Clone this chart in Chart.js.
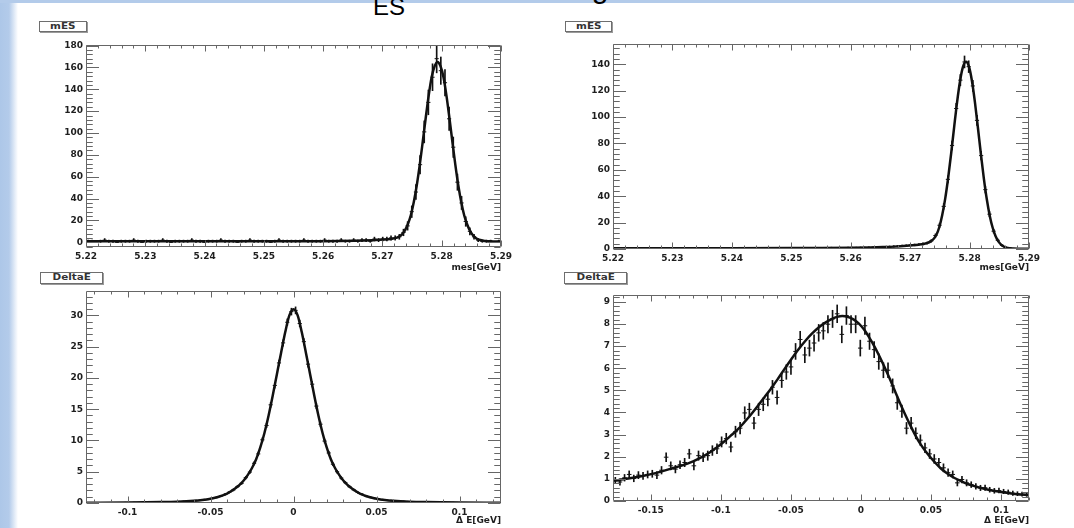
<!DOCTYPE html>
<html>
<head>
<meta charset="utf-8">
<script src="https://cdn.jsdelivr.net/npm/chart.js@4.4.1/dist/chart.umd.min.js"></script>
<style>
  html, body { margin: 0; padding: 0; }
  body { width: 1074px; height: 528px; overflow: hidden; position: relative; background: #fff;
         font-family: "Liberation Sans", Arial, sans-serif; }
  .bgleft { position: absolute; left: 0; top: 0; width: 20px; height: 528px;
            background: linear-gradient(to right, #adc7e8 0px, #b3cbea 9px, #ffffff 18px); }
  .bgtop { position: absolute; left: 0; top: 0; width: 1074px; height: 3px; background: #b3cbea; }
  canvas { position: absolute; }
  .lbl { position: absolute; box-sizing: border-box; border: 1px solid #6e6e6e; background: #fff;
         box-shadow: 1px 1px 0 #9a9a9a; text-align: center; font-family: "DejaVu Sans", sans-serif;
         font-weight: bold; font-size: 8px; color: #333; overflow: hidden; }
  .lbl span { display: inline-block; transform: scaleX(1.3); transform-origin: center; }
  .tt { position: absolute; white-space: nowrap; color: #000; font-family: "Liberation Sans", Arial, sans-serif; line-height: 1; }
</style>
</head>
<body>
<div class="bgleft"></div>
<div class="bgtop"></div>
<div class="tt" style="left:347px; top:-27px; font-size:30px;">m</div>
<div class="tt" style="left:373px; top:-5px; font-size:24px;">ES</div>
<div class="tt" style="left:420px; top:-27px; font-size:30px;">and ΔE for signal</div>

<div class="lbl" style="left:39px; top:21px; width:48px; height:11px; line-height:9px;"><span>mES</span></div>
<div class="lbl" style="left:565px; top:21px; width:47px; height:11px; line-height:9px;"><span>mES</span></div>
<div class="lbl" style="left:40px; top:272px; width:63px; height:12px; line-height:10px;"><span>DeltaE</span></div>
<div class="lbl" style="left:564px; top:272px; width:63px; height:12px; line-height:10px;"><span>DeltaE</span></div>

<canvas id="cTL" width="530" height="246" style="left:0px; top:30px;"></canvas>
<canvas id="cTR" width="530" height="246" style="left:527px; top:30px;"></canvas>
<canvas id="cBL" width="530" height="248" style="left:0px; top:280px;"></canvas>
<canvas id="cBR" width="530" height="248" style="left:527px; top:280px;"></canvas>

<script>
// ---------------- DATA ----------------
// mES histograms: 100 bins from 5.22 to 5.29
const mesBinLow = 5.22;
const mesBinWidth = 0.0007;
const mesTicks = [5.22, 5.23, 5.24, 5.25, 5.26, 5.27, 5.28, 5.29];
const mesTickLabels = ['5.22', '5.23', '5.24', '5.25', '5.26', '5.27', '5.28', '5.29'];

// top-left mES
const mesLeftCounts = [
  1,1,0,1,2,1,1,0,1,1, 1,2,1,0,1,1,1,1,2,1, 0,1,1,1,1,2,1,1,0,1, 1,1,2,1,1,1,0,1,1,2,
  1,1,1,1,0,1,2,1,1,1, 1,1,2,1,1,1,1,2,1,1, 1,2,1,1,2,1,2,2,1,3, 2,3,3,4,4,5,9,15,28,46,
  71,101,128,151,168,157,146,113,87,55, 36,19,10,5,2,1,1,1,0,1];
const mesLeftErrors = [
  1,1,0,1,1.41,1,1,0,1,1, 1,1.41,1,0,1,1,1,1,1.41,1, 0,1,1,1,1,1.41,1,1,0,1, 1,1,1.41,1,1,1,0,1,1,1.41,
  1,1,1,1,0,1,1.41,1,1,1, 1,1,1.41,1,1,1,1,1.41,1,1, 1,1.41,1,1,1.41,1,1.41,1.41,1,1.73,
  1.41,1.73,1.73,2,2,2.24,3,3.87,5.29,6.78, 8.43,10.05,11.31,12.29,12.96,12.53,12.08,10.63,9.33,7.42,
  6,4.36,3.16,2.24,1.41,1,1,1,0,1];
const mesLeftFitX = [5.22,5.23,5.24,5.25,5.26,5.2653,5.2683,5.2703,5.2713,5.2723,5.2728,5.2733,5.2738,5.2743,5.2748,
  5.2753,5.2758,5.2763,5.2768,5.2773,5.2778,5.2783,5.2788,5.2793,5.2798,5.2803,5.2808,5.2813,5.2818,5.2823,5.2828,
  5.2833,5.2838,5.2843,5.2848,5.2853,5.2858,5.2863,5.2873,5.2886,5.29];
const mesLeftFitY = [1.0,1.0,1.0,1.0,1.05,1.4,1.9,2.5,3.0,4.0,5.2,7.3,11,16.8,25,37,52.4,71,92,113.7,134.2,151,161,165,
  161,151,134.2,113.7,92,70.9,52.1,36.6,24.5,16.3,10.2,6.2,3.7,2.3,1.2,0.8,0.6];
const mesLeftYTicks = [0, 20, 40, 60, 80, 100, 120, 140, 160, 180];

// top-right mES
const mesRightCounts = [
  0.5,0.6,0.5,0.5,0.6,0.5,0.6,0.6,0.5,0.6, 0.6,0.5,0.6,0.6,0.6,0.7,0.6,0.6,0.6,0.7,
  0.6,0.7,0.7,0.6,0.7,0.7,0.7,0.7,0.7,0.8, 0.7,0.7,0.8,0.7,0.8,0.8,0.8,0.8,0.8,0.8,
  0.8,0.8,0.9,0.8,0.8,0.9,0.9,0.8,0.9,0.9, 0.9,0.9,1.0,0.9,1.0,0.9,1.0,1.0,1.0,1.1,
  1.1,1.2,1.3,1.4,1.5,1.6,1.8,2.0,2.2,2.4, 2.6,2.9,3.1,3.4,3.9,4.5,6.1,10.2,18.0,32.3,
  52.8,78.5,106.5,128.0,141.8,138.2,123.6,97.5,70.8,45.0, 26.4,13.5,6.6,2.8,1.2,0.6,0.3,0.2,0.2,0.1];
const mesRightErrors = [
  0.27,0.29,0.27,0.27,0.29,0.27,0.29,0.29,0.27,0.29, 0.29,0.27,0.29,0.29,0.29,0.32,0.29,0.29,0.29,0.32,
  0.29,0.32,0.32,0.29,0.32,0.32,0.32,0.32,0.32,0.34, 0.32,0.32,0.34,0.32,0.34,0.34,0.34,0.34,0.34,0.34,
  0.34,0.34,0.36,0.34,0.34,0.36,0.36,0.34,0.36,0.36, 0.36,0.36,0.38,0.36,0.38,0.36,0.38,0.38,0.38,0.4,
  0.4,0.42,0.43,0.45,0.47,0.48,0.51,0.54,0.56,0.59, 0.61,0.65,0.67,0.7,0.75,0.81,0.94,1.21,1.61,2.16,
  2.76,3.37,3.92,4.3,4.52,4.47,4.22,3.75,3.2,2.55, 1.95,1.4,0.98,0.64,0.42,0.29,0.21,0.17,0.17,0.12];
const mesRightFitX = [5.22,5.23,5.24,5.25,5.255,5.26,5.2634,5.2654,5.2674,5.2694,5.2704,5.2714,5.2724,5.2729,5.2734,
  5.2739,5.2744,5.2749,5.2754,5.2759,5.2764,5.2769,5.2774,5.2779,5.2784,5.2789,5.2794,5.2799,5.2804,5.2809,5.2814,
  5.2819,5.2824,5.2829,5.2834,5.2839,5.2844,5.2849,5.2854,5.2859,5.2864,5.2874,5.29];
const mesRightFitY = [0.5,0.55,0.65,0.75,0.8,0.95,1.2,1.45,1.8,2.4,2.8,3.3,4.0,4.6,5.6,7.4,10.6,16.5,25.8,38.2,54.0,
  72.4,92.2,111.4,127.4,138.2,142,138.2,127.4,111.3,92.1,72.2,53.6,37.7,25.1,15.9,9.5,5.4,2.9,1.5,0.8,0.4,0.2];
const mesRightYTicks = [0, 20, 40, 60, 80, 100, 120, 140];

// bottom-left DeltaE: 100 bins from -0.125 to 0.125
const deLeftBinLow = -0.125;
const deLeftBinWidth = 0.0025;
const deLeftCounts = [
  0.05,0.05,0.06,0.05,0.06,0.06,0.07,0.06,0.07,0.08, 0.08,0.09,0.08,0.1,0.11,0.12,0.12,0.14,0.15,0.16,
  0.18,0.2,0.23,0.26,0.3,0.35,0.39,0.44,0.53,0.6, 0.76,0.9,1.12,1.38,1.72,2.08,2.62,3.15,4.05,4.95,
  6.35,7.85,10.1,12.4,15.7,18.8,22.4,25.6,28.9,30.6, 30.8,28.7,25.8,22.2,19.0,15.5,12.6,9.9,8.0,6.2,
  5.0,4.0,3.25,2.6,2.1,1.68,1.4,1.1,0.92,0.74, 0.62,0.53,0.44,0.39,0.34,0.3,0.27,0.23,0.2,0.18,
  0.16,0.15,0.14,0.12,0.11,0.1,0.1,0.09,0.09,0.08, 0.08,0.07,0.07,0.06,0.06,0.06,0.05,0.05,0.05,0.05];
const deLeftErrors = [
  0.04,0.04,0.04,0.04,0.04,0.04,0.04,0.04,0.04,0.04, 0.04,0.04,0.04,0.04,0.05,0.05,0.05,0.05,0.05,0.05,
  0.05,0.05,0.06,0.06,0.06,0.07,0.07,0.07,0.08,0.08, 0.09,0.1,0.11,0.12,0.14,0.15,0.17,0.18,0.2,0.22,
  0.25,0.28,0.32,0.35,0.4,0.43,0.47,0.51,0.54,0.55, 0.56,0.54,0.51,0.47,0.44,0.39,0.36,0.31,0.28,0.25,
  0.22,0.2,0.18,0.16,0.15,0.13,0.12,0.11,0.1,0.09, 0.08,0.08,0.07,0.07,0.06,0.06,0.06,0.05,0.05,0.05,
  0.05,0.05,0.05,0.05,0.05,0.05,0.04,0.04,0.04,0.04, 0.04,0.04,0.04,0.04,0.04,0.04,0.04,0.04,0.04,0.04];
const deLeftFitX = [-0.125,-0.1,-0.09,-0.08,-0.07,-0.06,-0.055,-0.05,-0.045,-0.04,-0.0375,-0.035,-0.0325,-0.03,-0.0275,
  -0.025,-0.0225,-0.02,-0.0175,-0.015,-0.0125,-0.01,-0.0075,-0.005,-0.0025,0,0.0025,0.005,0.0075,0.01,0.0125,0.015,
  0.0175,0.02,0.0225,0.025,0.0275,0.03,0.0325,0.035,0.0375,0.04,0.045,0.05,0.055,0.06,0.07,0.08,0.09,0.1,0.125];
const deLeftFitY = [0.05,0.08,0.11,0.15,0.22,0.36,0.48,0.68,1.0,1.5,1.9,2.35,2.9,3.6,4.5,5.6,7.0,8.9,11.2,14.0,17.2,
  20.6,24.0,27.3,30.0,31.0,30.0,27.3,24.0,20.6,17.2,14.0,11.2,8.9,7.0,5.6,4.5,3.6,2.9,2.35,1.9,1.5,1.0,0.68,0.48,
  0.36,0.22,0.15,0.11,0.08,0.05];
const deLeftXTicks = [-0.1, -0.05, 0, 0.05, 0.1];
const deLeftXTickLabels = ['-0.1', '-0.05', '0', '0.05', '0.1'];
const deLeftYTicks = [0, 5, 10, 15, 20, 25, 30];

// bottom-right DeltaE: 90 bins from -0.177 to 0.12
const deRightBinLow = -0.177;
const deRightBinWidth = 0.0033;
const deRightCounts = [
  0.93,0.86,1.05,1.2,1.02,1.17,1.14,1.2,1.23,1.17, 1.39,1.98,1.59,1.44,1.64,1.74,2.13,1.59,2.05,1.98,
  2.05,2.28,2.36,2.67,2.82,2.44,3.13,3.29,3.98,4.14, 3.52,4.14,4.37,4.6,5.14,4.68,5.45,5.83,6.06,6.76,
  7.3,6.6,6.91,7.14,7.6,7.69,7.99,8.23,8.46,7.53, 8.38,7.99,7.99,6.91,7.92,7.22,6.84,6.3,5.91,5.91,
  5.2,4.44,4.06,3.29,3.52,3.06,2.75,2.4,2.13,1.9, 1.74,1.5,1.28,1.2,0.82,0.97,0.82,0.74,0.66,0.59,
  0.6,0.51,0.46,0.47,0.43,0.4,0.35,0.33,0.31,0.3];
const deRightErrors = [
  0.14,0.14,0.15,0.16,0.15,0.16,0.16,0.16,0.16,0.16, 0.17,0.2,0.18,0.17,0.18,0.19,0.21,0.18,0.21,0.2,
  0.21,0.22,0.22,0.23,0.24,0.22,0.25,0.26,0.28,0.28, 0.26,0.28,0.29,0.3,0.31,0.3,0.32,0.33,0.34,0.36,
  0.37,0.35,0.36,0.37,0.38,0.38,0.39,0.39,0.4,0.38, 0.4,0.39,0.39,0.36,0.39,0.37,0.36,0.35,0.34,0.34,
  0.32,0.3,0.28,0.26,0.26,0.25,0.24,0.22,0.21,0.2, 0.19,0.18,0.17,0.16,0.14,0.15,0.14,0.13,0.13,0.12,
  0.12,0.11,0.11,0.11,0.1,0.1,0.1,0.09,0.09,0.09];
const deRightFitX = [-0.177,-0.1735,-0.165,-0.156,-0.146,-0.1367,-0.128,-0.1198,-0.1137,-0.1077,-0.103,-0.098,-0.0933,
  -0.0883,-0.0835,-0.0786,-0.0738,-0.069,-0.064,-0.0593,-0.0545,-0.0496,-0.0448,-0.0399,-0.035,-0.0302,-0.0254,-0.0206,
  -0.017,-0.0133,-0.0097,-0.006,-0.003,0,0.003,0.006,0.0097,0.0133,0.017,0.0206,0.0242,0.0278,0.0315,0.0351,0.0387,
  0.0423,0.046,0.0496,0.0532,0.0569,0.0617,0.0665,0.0714,0.0762,0.081,0.0859,0.092,0.098,0.104,0.1101,0.1173,0.12];
const deRightFitY = [0.92,0.94,1.03,1.13,1.27,1.44,1.6,1.79,1.98,2.2,2.42,2.67,2.93,3.21,3.54,3.9,4.28,4.68,5.1,5.52,
  5.97,6.42,6.84,7.22,7.56,7.84,8.06,8.23,8.32,8.36,8.33,8.23,8.1,7.92,7.68,7.38,6.98,6.53,6.03,5.52,4.98,4.44,3.92,
  3.44,2.99,2.59,2.26,1.98,1.72,1.48,1.24,1.05,0.9,0.77,0.67,0.59,0.5,0.43,0.37,0.32,0.28,0.27];
const deRightXTicks = [-0.15, -0.1, -0.05, 0, 0.05, 0.1];
const deRightXTickLabels = ['-0.15', '-0.1', '-0.05', '0', '0.05', '0.1'];
const deRightYTicks = [0, 1, 2, 3, 4, 5, 6, 7, 8, 9];

// ---------------- RENDERING ----------------
const LABEL_FONT = { family: 'DejaVu Sans', weight: 'bold', size: 9 };
const TEXT_COLOR = '#1e1e1e';
const FRAME_COLOR = '#666666';

const rootFrame = {
  id: 'rootFrame',
  afterDatasetsDraw(chart, args, o) {
    const { ctx, chartArea: a, scales: { x, y } } = chart;
    const L = Math.round(a.left) + 0.5, R = Math.round(a.right) - 0.5;
    const T = Math.round(a.top) + 0.5, B = Math.round(a.bottom) - 0.5;
    ctx.save();
    ctx.strokeStyle = FRAME_COLOR;
    ctx.lineWidth = 1;
    ctx.beginPath();
    const seg = (x1, y1, x2, y2) => { ctx.moveTo(x1, y1); ctx.lineTo(x2, y2); };
    seg(L, T, R, T); seg(R, T, R, B); seg(R, B, L, B); seg(L, B, L, T);
    const tickVals = (min, max, step) => {
      const out = [];
      for (let k = Math.ceil(min / step - 1e-6); k * step <= max + 1e-9; k++) out.push(k * step);
      return out;
    };
    const isMajor = (v, step) => Math.abs(v / step - Math.round(v / step)) < 1e-6;
    for (const v of tickVals(x.min, x.max, o.xMinor)) {
      const len = isMajor(v, o.xMajor) ? o.xMajorLen : o.xMajorLen / 2;
      const px = Math.round(x.getPixelForValue(v)) + 0.5;
      seg(px, B, px, B - len);
      seg(px, T, px, T + len);
    }
    for (const v of tickVals(y.min, y.max, o.yMinor)) {
      const len = isMajor(v, o.yMajor) ? o.yMajorLen : o.yMajorLen / 2;
      const py = Math.round(y.getPixelForValue(v)) + 0.5;
      seg(L, py, L + len, py);
      seg(R, py, R - len, py);
    }
    ctx.stroke();
    ctx.restore();
  }
};

function histDatasets(binLow, binWidth, counts, errors) {
  const centers = counts.map((_, i) => binLow + (i + 0.5) * binWidth);
  return [
    {
      type: 'bar',
      data: centers.map((c, i) => ({ x: c, y: [counts[i] - errors[i], counts[i] + errors[i]] })),
      backgroundColor: '#111', borderWidth: 0, barThickness: 1, order: 3
    },
    {
      type: 'scatter',
      data: centers.map((c, i) => ({ x: c, y: counts[i] })),
      pointStyle: 'line', borderColor: '#111', backgroundColor: '#111', borderWidth: 1,
      pointRadius: (ctx) => {
        const s = ctx.chart.scales.x;
        return Math.abs(s.getPixelForValue(binWidth) - s.getPixelForValue(0)) / 2;
      },
      order: 2
    }
  ];
}

function fitDataset(xs, ys) {
  return {
    type: 'line',
    data: xs.map((x, i) => ({ x, y: ys[i] })),
    borderColor: '#111', borderWidth: 2.5, pointRadius: 0, fill: false,
    cubicInterpolationMode: 'monotone', order: 0
  };
}

function makeChart(id, cfg) {
  const xLabels = cfg.xLabels;
  new Chart(document.getElementById(id), {
    type: 'scatter',
    data: { datasets: [fitDataset(cfg.fitX, cfg.fitY), ...histDatasets(cfg.binLow, cfg.binWidth, cfg.counts, cfg.errors)] },
    options: {
      responsive: false, animation: false, events: [],
      layout: { padding: { top: cfg.padTop, right: cfg.padRight, left: 0, bottom: 0 } },
      plugins: {
        legend: { display: false }, tooltip: { enabled: false },
        rootFrame: cfg.frame
      },
      scales: {
        x: {
          type: 'linear', min: cfg.xMin, max: cfg.xMax, offset: false,
          grid: { display: false, drawTicks: false }, border: { display: false },
          afterBuildTicks: (s) => { s.ticks = cfg.xTicks.map(v => ({ value: v })); },
          ticks: { autoSkip: false, maxRotation: 0, padding: 4, font: LABEL_FONT, color: TEXT_COLOR,
                   callback: (v, i) => xLabels[i] },
          title: { display: true, text: cfg.xTitle, align: 'end', font: LABEL_FONT, color: TEXT_COLOR,
                   padding: { top: 0, bottom: cfg.titlePad } },
          afterFit: (s) => { s.height = cfg.xH; }
        },
        y: {
          type: 'linear', min: cfg.yMin, max: cfg.yMax,
          grid: { display: false, drawTicks: false }, border: { display: false },
          afterBuildTicks: (s) => { s.ticks = cfg.yTicks.map(v => ({ value: v })); },
          ticks: { autoSkip: false, padding: 3, font: LABEL_FONT, color: TEXT_COLOR,
                   callback: (v) => String(v) },
          afterFit: (s) => { s.width = cfg.yW; }
        }
      }
    },
    plugins: [rootFrame]
  });
}

makeChart('cTL', {
  fitX: mesLeftFitX, fitY: mesLeftFitY, binLow: mesBinLow, binWidth: mesBinWidth,
  counts: mesLeftCounts, errors: mesLeftErrors,
  xMin: 5.22, xMax: 5.29, yMin: -4.3, yMax: 180.5,
  xTicks: mesTicks, xLabels: mesTickLabels, yTicks: mesLeftYTicks, xTitle: 'mes[GeV]',
  padTop: 15, padRight: 29, yW: 86, xH: 29, titlePad: 3,
  frame: { xMinor: 0.002, xMajor: 0.01, yMinor: 4, yMajor: 20, xMajorLen: 6, yMajorLen: 12.5 }
});
makeChart('cTR', {
  fitX: mesRightFitX, fitY: mesRightFitY, binLow: mesBinLow, binWidth: mesBinWidth,
  counts: mesRightCounts, errors: mesRightErrors,
  xMin: 5.22, xMax: 5.29, yMin: 0, yMax: 155.4,
  xTicks: mesTicks, xLabels: mesTickLabels, yTicks: mesRightYTicks, xTitle: 'mes[GeV]',
  padTop: 14, padRight: 28, yW: 86, xH: 27, titlePad: 3,
  frame: { xMinor: 0.002, xMajor: 0.01, yMinor: 4, yMajor: 20, xMajorLen: 6, yMajorLen: 12.5 }
});
makeChart('cBL', {
  fitX: deLeftFitX, fitY: deLeftFitY, binLow: deLeftBinLow, binWidth: deLeftBinWidth,
  counts: deLeftCounts, errors: deLeftErrors,
  xMin: -0.125, xMax: 0.125, yMin: 0, yMax: 33.9,
  xTicks: deLeftXTicks, xLabels: deLeftXTickLabels, yTicks: deLeftYTicks, xTitle: 'Δ E[GeV]',
  padTop: 11, padRight: 29, yW: 86, xH: 25, titlePad: 2,
  frame: { xMinor: 0.01, xMajor: 0.05, yMinor: 1, yMajor: 5, xMajorLen: 6, yMajorLen: 12.5 }
});
makeChart('cBR', {
  fitX: deRightFitX, fitY: deRightFitY, binLow: deRightBinLow, binWidth: deRightBinWidth,
  counts: deRightCounts, errors: deRightErrors,
  xMin: -0.177, xMax: 0.12, yMin: 0, yMax: 9.31,
  xTicks: deRightXTicks, xLabels: deRightXTickLabels, yTicks: deRightYTicks, xTitle: 'Δ E[GeV]',
  padTop: 15, padRight: 28, yW: 86, xH: 27, titlePad: 2,
  frame: { xMinor: 0.01, xMajor: 0.05, yMinor: 0.2, yMajor: 1, xMajorLen: 6, yMajorLen: 12.5 }
});
</script>
</body>
</html>
